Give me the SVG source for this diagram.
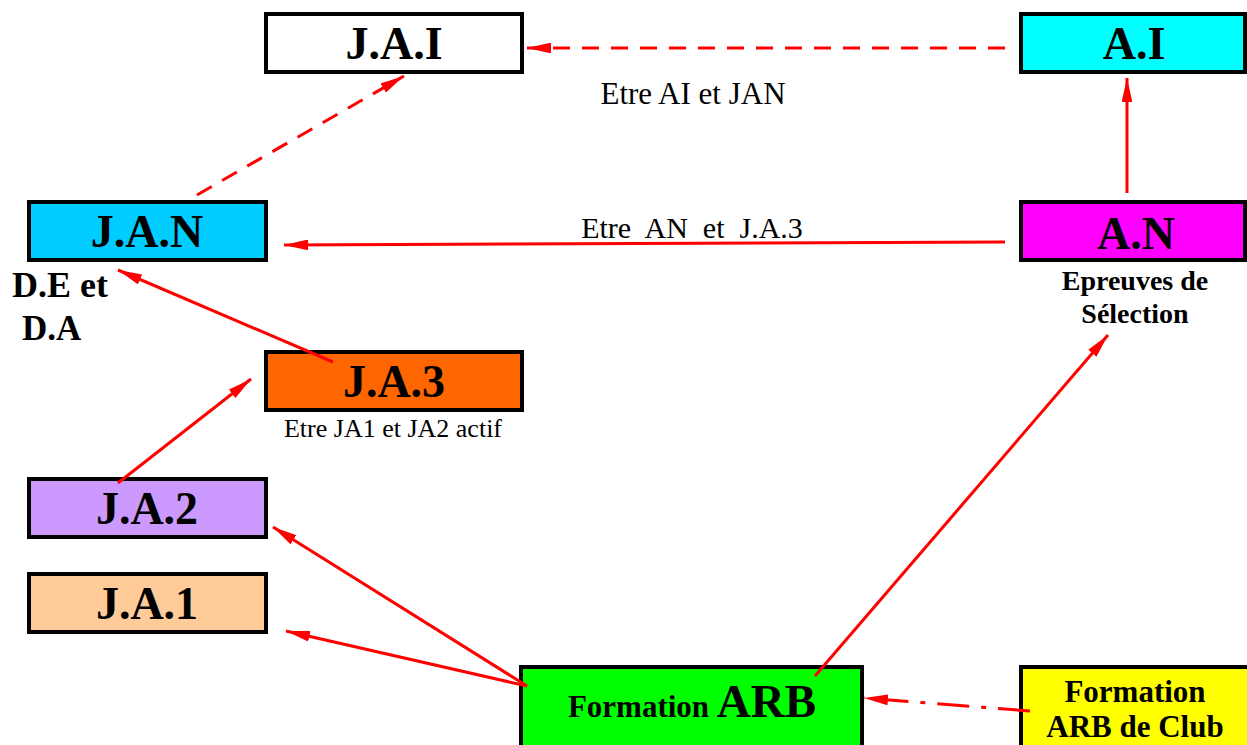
<svg xmlns="http://www.w3.org/2000/svg" width="1247" height="745" viewBox="0 0 1247 745">
<style>
.box{stroke:#000;stroke-width:4}
.t{font-family:"Liberation Serif","Times New Roman",serif;font-weight:bold;text-anchor:middle;fill:#000}
.big{font-size:46px}
.lbl{font-family:"Liberation Serif","Times New Roman",serif;text-anchor:middle;fill:#000}
.c{stroke:#FF0000;stroke-width:3;fill:none}
</style>
<defs>
<marker id="ah" viewBox="0 0 10 10" refX="10" refY="5" markerWidth="8" markerHeight="3.6" orient="auto" markerUnits="strokeWidth" preserveAspectRatio="none">
<path d="M0,0 L10,5 L0,10 z" fill="#FF0000"/>
</marker>
</defs>
<rect width="1247" height="745" fill="#fff"/>
<g id="jai"><rect class="box" x="266" y="14" width="256" height="58" fill="#FFFFFF"/><text class="t big" x="394" y="59">J.A.I</text></g>
<g id="ai"><rect class="box" x="1021" y="14" width="224" height="58" fill="#00FFFF"/><text class="t big" x="1134" y="59">A.I</text></g>
<g id="jan"><rect class="box" x="29" y="202" width="237" height="58" fill="#00CCFF"/><text class="t big" x="147" y="247">J.A.N</text></g>
<g id="an"><rect class="box" x="1021" y="202" width="224" height="58" fill="#FF00FF"/><text class="t big" x="1136" y="249">A.N</text></g>
<g id="ja3"><rect class="box" x="266" y="352" width="256" height="58" fill="#FF6600"/><text class="t big" x="394" y="397">J.A.3</text></g>
<g id="ja2"><rect class="box" x="29" y="479" width="237" height="58" fill="#CC99FF"/><text class="t big" x="147" y="524">J.A.2</text></g>
<g id="ja1"><rect class="box" x="29" y="574" width="237" height="58" fill="#FFCC99"/><text class="t big" x="147" y="619">J.A.1</text></g>
<g id="formation"><rect class="box" x="521" y="667" width="341" height="82" fill="#00FF00"/><text class="t" x="692" y="717"><tspan font-size="31">Formation </tspan><tspan font-size="47">ARB</tspan></text></g>
<g id="club"><rect class="box" x="1021" y="667" width="230" height="82" fill="#FFFF00"/><text class="t" x="1135" y="702" font-size="31">Formation</text><text class="t" x="1135" y="737" font-size="31">ARB de Club</text></g>
<g id="labels">
<text class="lbl" x="693" y="104" font-size="31">Etre AI et JAN</text>
<text class="lbl" x="692" y="238" font-size="30" xml:space="preserve">Etre  AN  et  J.A.3</text>
<text class="lbl" x="393" y="437" font-size="26">Etre JA1 et JA2 actif</text>
<text class="t" x="12" y="297" font-size="36" style="text-anchor:start">D.E et</text>
<text class="t" x="22" y="340" font-size="35" style="text-anchor:start">D.A</text>
<text class="t" x="1135" y="290" font-size="28">Epreuves de</text>
<text class="t" x="1135" y="323" font-size="28">Sélection</text>
</g>
<g id="connectors">
<line class="c" x1="1005" y1="48" x2="527" y2="48" stroke-dasharray="17,12" marker-end="url(#ah)"/>
<line class="c" x1="197" y1="195" x2="404" y2="76" stroke-dasharray="17,12" marker-end="url(#ah)"/>
<line class="c" x1="1005" y1="242" x2="284" y2="245" marker-end="url(#ah)"/>
<line class="c" x1="1127" y1="193" x2="1127" y2="78" marker-end="url(#ah)"/>
<line class="c" x1="333" y1="362" x2="118" y2="270" marker-end="url(#ah)"/>
<line class="c" x1="118" y1="483" x2="251" y2="379" marker-end="url(#ah)"/>
<line class="c" x1="527" y1="686" x2="273" y2="527" marker-end="url(#ah)"/>
<line class="c" x1="527" y1="686" x2="286" y2="631" marker-end="url(#ah)"/>
<line class="c" x1="815" y1="676" x2="1108" y2="335" marker-end="url(#ah)"/>
<line class="c" x1="1030" y1="711" x2="864" y2="698" stroke-width="4" stroke-dasharray="32,12,5,12" marker-end="url(#ah)"/>
</g>
</svg>
